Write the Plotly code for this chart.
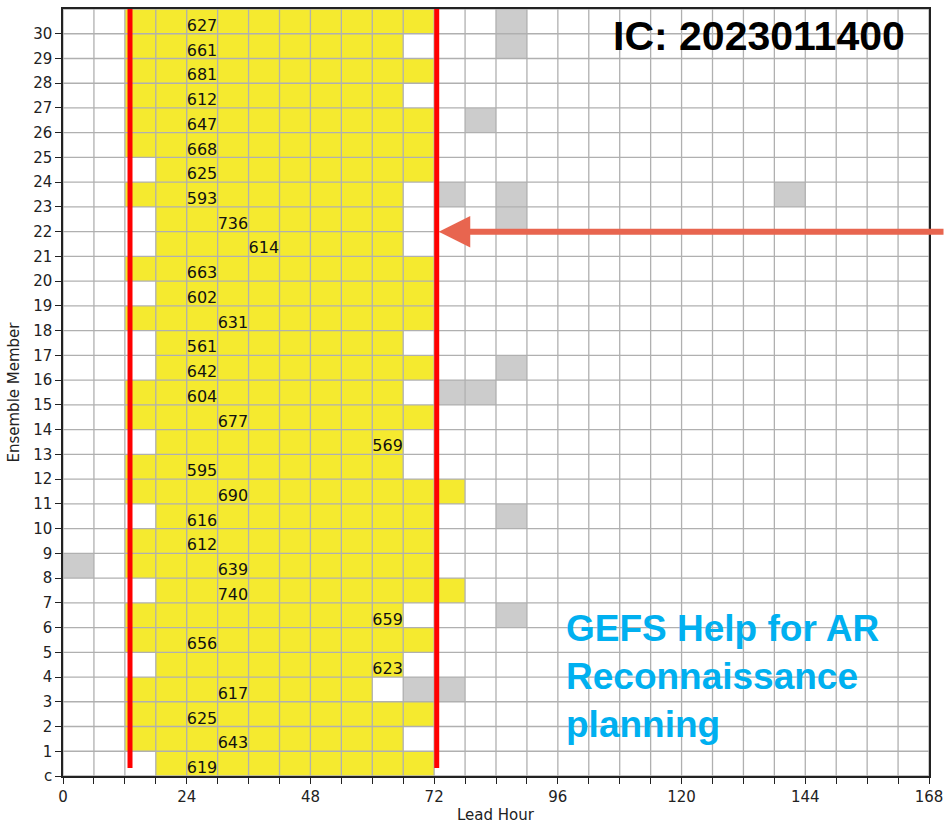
import plotly.graph_objects as go

# ---------------- data ----------------
members = ['c'] + [str(i) for i in range(1, 31)]
hour_edges = list(range(0, 169, 6))

# yellow run (start hour, end hour) per member (c, 1..30)
yellow_start = [18, 12, 12, 12, 18, 12, 12, 18, 12, 12, 18, 12, 12, 18, 12, 12,
                18, 18, 12, 18, 12, 18, 18, 12, 18, 12, 12, 12, 12, 12, 12]
yellow_end = [72, 66, 72, 60, 66, 72, 66, 78, 72, 72, 72, 78, 66, 66, 72, 66,
              72, 66, 72, 72, 72, 66, 66, 66, 72, 72, 72, 66, 72, 66, 72]

# gray cells: member index and cell start hour
gray_member = [3, 3, 6, 8, 10, 15, 15, 16, 22, 23, 23, 23, 26, 29, 30]
gray_hour = [66, 72, 84, 0, 84, 72, 78, 84, 84, 72, 84, 138, 78, 84, 84]

# numbers written in each row and the hour where they start
label_value = [619, 643, 625, 617, 623, 656, 659, 740, 639, 612, 616, 690, 595, 569, 677, 604,
               642, 561, 631, 602, 663, 614, 736, 593, 625, 668, 647, 612, 681, 661, 627]
label_hour = [24, 30, 24, 30, 60, 24, 60, 30, 30, 24, 24, 30, 24, 60, 30, 24,
              24, 24, 30, 24, 24, 36, 30, 24, 24, 24, 24, 24, 24, 24, 24]

red_lines = [13, 72.5]
x_tick_labels = [0, 24, 48, 72, 96, 120, 144, 168]

# ---------------- build grid ----------------
ncol = len(hour_edges) - 1
nrow = len(members)
z = [[0] * ncol for _ in range(nrow)]
for r in range(nrow):
    for c in range(ncol):
        h = hour_edges[c]
        if yellow_start[r] <= h < yellow_end[r]:
            z[r][c] = 1
for m, h in zip(gray_member, gray_hour):
    z[m][hour_edges.index(h)] = 2

YELLOW = '#F5EA2F'
GRAY = '#CCCCCC'
colorscale = [[0, 'white'], [1/3, 'white'], [1/3, YELLOW], [2/3, YELLOW],
              [2/3, GRAY], [1, GRAY]]

fig = go.Figure()
fig.add_trace(go.Heatmap(
    x=hour_edges, y=list(range(nrow + 1)), z=z,
    colorscale=colorscale, zmin=-0.5, zmax=2.5, showscale=False,
    hoverinfo='skip'))

# grid lines above cells
for h in hour_edges:
    fig.add_shape(type='line', xref='x', yref='y', x0=h, x1=h, y0=0, y1=nrow,
                  line=dict(color='#B0B0B0', width=1.3), layer='above')
for r in range(nrow + 1):
    fig.add_shape(type='line', xref='x', yref='y', x0=0, x1=168, y0=r, y1=r,
                  line=dict(color='#B0B0B0', width=1.3), layer='above')

# red vertical lines
for xv in red_lines:
    fig.add_shape(type='line', xref='x', yref='y', x0=xv, x1=xv, y0=0.32, y1=nrow,
                  line=dict(color='#FF0000', width=5), layer='above')

# numbers
fig.add_trace(go.Scatter(
    x=label_hour, y=[i + 0.28 for i in range(nrow)],
    text=[str(v) for v in label_value], mode='text',
    textposition='middle right',
    textfont=dict(family='DejaVu Sans', size=16, color='#111111'),
    hoverinfo='skip', showlegend=False))

# arrow
fig.add_annotation(x=72.9, y=22, xref='x', yref='y', ax=510, ay=0,
                   axref='pixel', ayref='pixel', text='', showarrow=True,
                   arrowhead=2, arrowsize=1.05, arrowwidth=6, arrowcolor='#E8654F')

fig.add_annotation(xref='paper', yref='paper', x=0.9745, y=0.998, xanchor='right', yanchor='top',
                   text='<b>IC: 2023011400</b>', showarrow=False,
                   font=dict(family='Liberation Sans', size=41, color='black'))
fig.add_annotation(xref='paper', yref='paper', x=0.579, y=0.222, xanchor='left', yanchor='top',
                   align='left',
                   text='<b>GEFS Help for AR<br>Reconnaissance<br>planning</b>', showarrow=False,
                   font=dict(family='Liberation Sans', size=37, color='#00B0F0'))

# axis titles
fig.add_annotation(xref='paper', yref='paper', x=0.5, y=-0.0508, xanchor='center', yanchor='middle',
                   text='Lead Hour', showarrow=False,
                   font=dict(family='DejaVu Sans', size=15, color='#222222'))
fig.add_annotation(xref='paper', yref='paper', x=-0.0577, y=0.5, xanchor='center', yanchor='middle',
                   text='Ensemble Member', showarrow=False, textangle=-90,
                   font=dict(family='DejaVu Sans', size=15, color='#222222'))

fig.update_layout(
    width=945, height=823,
    margin=dict(l=63, r=16, t=9, b=47, autoexpand=False),
    paper_bgcolor='white', plot_bgcolor='white',
    showlegend=False,
    font=dict(family='DejaVu Sans', size=15, color='#222222'),
    xaxis=dict(range=[0, 168], tickvals=hour_edges,
               ticktext=[str(h) if h in x_tick_labels else '' for h in hour_edges],
               ticks='outside', ticklen=6, tickwidth=1.3, tickcolor='#222',
               showgrid=False, zeroline=False, showline=True, linecolor='#222',
               linewidth=1.5, mirror=True, automargin=False),
    yaxis=dict(range=[0, nrow], tickvals=list(range(nrow)), ticktext=members,
               ticks='outside', ticklen=6, tickwidth=1.3, tickcolor='#222',
               showgrid=False, zeroline=False, showline=True, linecolor='#222',
               linewidth=1.5, mirror=True, automargin=False),
)

# remove the page's default body margin so the figure fills the window exactly
fig.write_html('out.html', config={'displayModeBar': False},
               post_script="document.body.style.margin='0';document.body.style.overflow='hidden';")
